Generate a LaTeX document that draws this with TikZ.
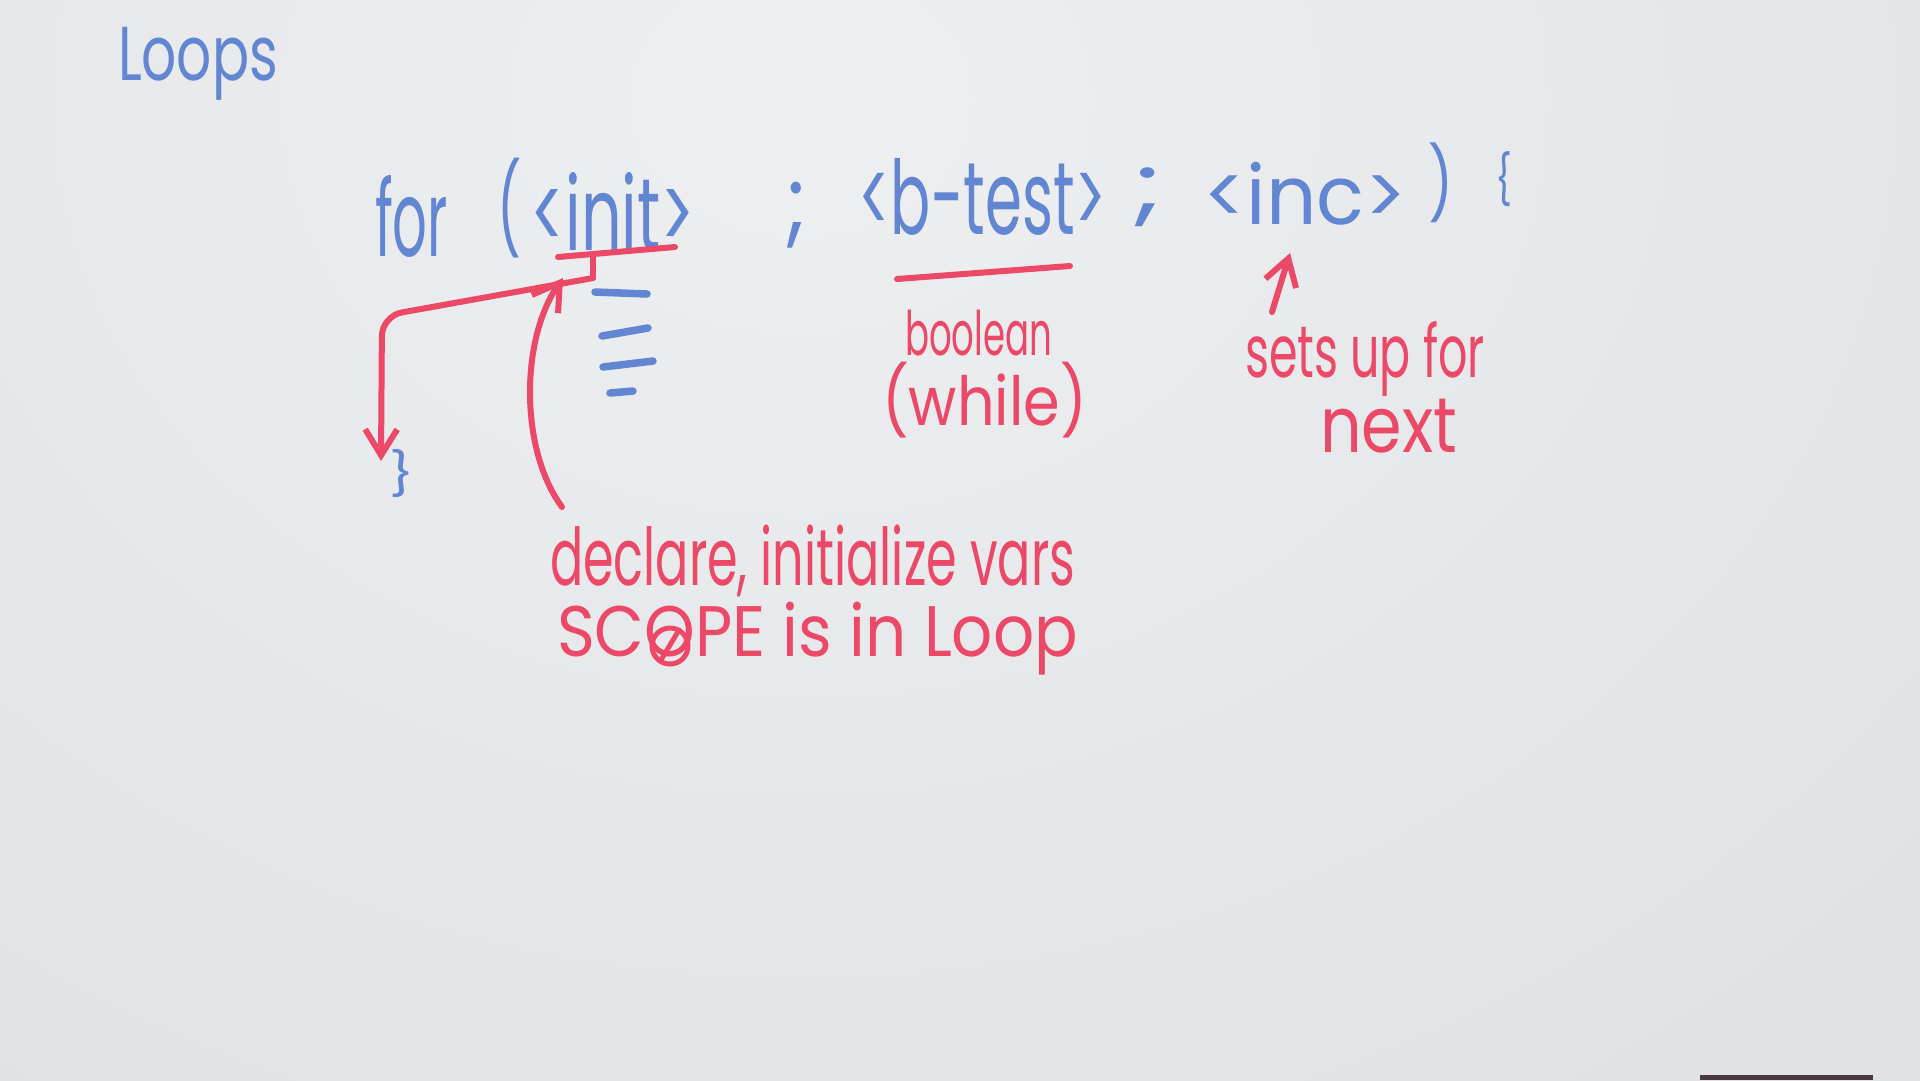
\documentclass[tikz,border=0pt]{standalone}
\usepackage{fontspec}
\setmainfont{Poppins}
\usepackage{graphicx}
\usetikzlibrary{arrows.meta}

% one drawing unit = 0.1 mm; text is stretched to a given ink box
\newlength\pxu
\setlength\pxu{0.1mm}
\newcommand\fitbox[3]{\resizebox*{#1\pxu}{#2\pxu}{#3}}

\definecolor{inkblue}{RGB}{98,134,210}
\definecolor{inkred}{RGB}{236,72,104}
\definecolor{boardhi}{RGB}{238,239,241}
\definecolor{boardlo}{RGB}{211,213,217}
\definecolor{traydark}{RGB}{72,56,66}

\begin{document}
\begin{tikzpicture}[x=0.1mm,y=-0.1mm,
  hand/.style={inner sep=0pt, outer sep=0pt, anchor=north west},
  bluetext/.style={hand, text=inkblue},
  redtext/.style={hand, text=inkred},
  redpen/.style={draw=inkred, line width=0.6mm, line cap=round, line join=round},
  bluepen/.style={draw=inkblue, line width=0.75mm, line cap=round},
  barb/.style={-{Straight Barb[length=2.6mm,width=3.2mm]}}]

\useasboundingbox (0,0) rectangle (1920,1080);

% whiteboard
\begin{scope}
  \clip (0,0) rectangle (1920,1080);
  \shade[inner color=boardhi, outer color=boardlo] (-2200,-2300) rectangle (3800,2500);
  \fill[traydark] (1700,1075) rectangle (1873,1080);
\end{scope}

% heading
\node[bluetext] (title) at (118,27) {\fitbox{160}{73}{Loops}};

% the for statement
\node[bluetext] (kwfor)  at (375,175)  {\fitbox{73}{82}{for}};
\node[bluetext] (lparen) at (497,158)  {\fitbox{24}{100}{(}};
\node[bluetext] (init)   at (530,172)  {\fitbox{165}{78}{<init>}};
\node[bluetext] (semi1)  at (785,182)  {\fitbox{22}{66}{;}};
\node[bluetext] (btest)  at (858,158)  {\fitbox{249}{77}{<b-test>}};
\node[bluetext] (semi2)  at (1132,168) {\fitbox{31}{59}{;}};
\node[bluetext] (inc)    at (1203,162) {\fitbox{204}{63}{<inc>}};
\node[bluetext] (rparen) at (1428,143) {\fitbox{25}{80}{)}};
\node[bluetext] (lbrace) at (1495,152) {\fitbox{17}{55}{\{}};
\node[bluetext] (rbrace) at (389,449)  {\fitbox{25}{48}{\}}};

% loop body placeholder lines
\draw[bluepen] (595,292) -- (647,294);
\draw[bluepen] (602,336) -- (648,328);
\draw[bluepen] (603,367) -- (653,361);
\draw[bluepen] (610,393) -- (633,391);

% notes
\node[redtext] (boolean) at (905,310)  {\fitbox{147}{46}{boolean}};
\node[redtext] (while)   at (882,362)  {\fitbox{205}{76}{(while)}};
\node[redtext] (setsup)  at (1245,322) {\fitbox{240}{75}{sets up for}};
\node[redtext] (next)    at (1320,399) {\fitbox{137}{54}{next}};
\node[redtext] (declare) at (550,525)  {\fitbox{525}{72}{declare, initialize vars}};
\node[redtext] (scope)   at (557,602)  {\fitbox{521}{73}{SCOPE is in Loop}};
\draw[redpen, line width=0.5mm] (670,646) circle[radius=1.8mm];
\draw[redpen, line width=0.5mm] (661,660) -- (679,630);

% connector end points
\coordinate (initL)    at (558,257);
\coordinate (initR)    at (675,247);
\coordinate (tickTop)  at (593,257);
\coordinate (tickBot)  at (593,278);
\coordinate (bend)     at (382,316);
\coordinate (loopExit) at (381,461);
\coordinate (declTop)  at (562,507);
\coordinate (initHook) at (563,278);
\coordinate (testL)    at (897,279);
\coordinate (testR)    at (1070,266);
\coordinate (incTail)  at (1272,312);
\coordinate (incHead)  at (1290,253);

% underlines and arrows
\draw[redpen] (initL) -- (initR);
\draw[redpen] (tickTop) -- (tickBot);
\draw[redpen, rounded corners=2mm, barb] (tickBot) -- (bend) -- (loopExit);
\draw[redpen, barb] (declTop) .. controls (520,450) and (520,340) .. (initHook);
\draw[redpen] (testL) -- (testR);
\draw[redpen, barb] (incTail) -- (incHead);

\end{tikzpicture}
\end{document}
